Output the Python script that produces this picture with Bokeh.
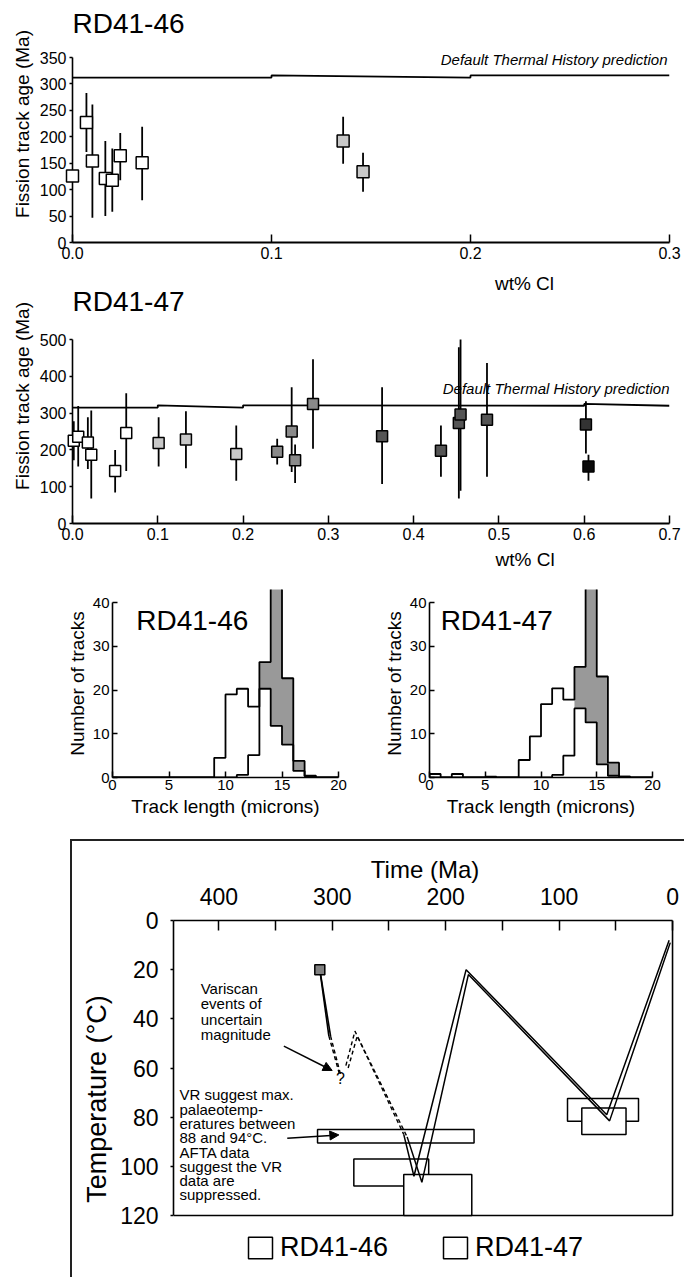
from bokeh.plotting import figure
from bokeh.models import (Range1d, FixedTicker, NumeralTickFormatter, Label, Arrow,
                          NormalHead, Legend, LegendItem, Div, Spacer, Title)
from bokeh.layouts import column, row
from bokeh.embed import file_html
from bokeh.resources import INLINE

FONT = "Liberation Sans"

# ---------------- data: fission track age vs wt% Cl ----------------
a46_cl = [0.000, 0.007, 0.010, 0.0165, 0.020, 0.024, 0.035, 0.136, 0.146]
a46_age = [126, 227, 154, 121, 118, 164, 151, 192, 134]
a46_lo = [122, 171, 47, 50, 58, 118, 80, 149, 96]
a46_hi = [130, 283, 261, 192, 178, 207, 219, 238, 170]
a46_grp = [0, 0, 0, 0, 0, 0, 0, 1, 1]
a46_dth_cl = [0.0, 0.1, 0.1, 0.2, 0.2, 0.3]
a46_dth_age = [312, 312, 316, 312, 316, 316]

a47_cl = [0.0015, 0.0067, 0.018, 0.022, 0.050, 0.063, 0.101, 0.133, 0.192, 0.240,
          0.257, 0.261, 0.282, 0.363, 0.432, 0.453, 0.455, 0.486, 0.602, 0.605]
a47_age = [225, 236, 220, 187, 143, 246, 219, 228, 189, 195,
           250, 172, 325, 237, 198, 273, 296, 282, 269, 155]
a47_lo = [172, 155, 148, 68, 84, 143, 155, 150, 116, 160,
          140, 110, 203, 107, 127, 68, 89, 127, 190, 116]
a47_hi = [278, 319, 289, 307, 200, 354, 289, 305, 266, 230,
          370, 215, 446, 370, 266, 479, 500, 436, 332, 187]
a47_grp = [0, 0, 0, 0, 0, 0, 1, 1, 1, 2, 2, 2, 2, 3, 3, 3, 3, 3, 4, 5]
a47_dth_cl = [0.0, 0.1, 0.1, 0.2, 0.2, 0.6, 0.6, 0.7]
a47_dth_age = [315, 315, 321, 315, 321, 320, 325, 320]

grp_colors = ["#ffffff", "#c8c8c8", "#8a8a8a", "#555555", "#333333", "#0a0a0a"]

# ---------------- data: track length histograms (1 micron bins, 0-20) ----------------
len_edges = list(range(21))
h46_all = [0, 0, 0, 0, 0, 0, 0, 0, 0, 4.5, 19, 20.3, 16.2, 26.4, 45, 22.7, 3.8, 0.4, 0, 0]
h46_sub = [0, 0, 0, 0, 0, 0, 0, 0, 0, 0, 0, 0.6, 5.1, 20.3, 11.8, 7.5, 1.5, 0.3, 0, 0]
h47_all = [0.8, 0, 0.8, 0, 0, 0.2, 0, 0, 4.0, 9.4, 16.8, 20.4, 17.8, 25.3, 45, 23.1, 3.4, 0.2, 0, 0]
h47_sub = [0, 0, 0, 0, 0, 0, 0, 0, 0, 0, 0, 0.6, 5.0, 15.8, 12.6, 3.0, 0.4, 0.2, 0, 0]
grey_from = 13

# ---------------- data: thermal history ----------------
th46_t = [311, 303, 294, 288, 280, 237, 228, 182, 58, 3]
th46_T = [20, 47, 62, 59, 45, 87, 104, 20, 79, 8]
th47_t = [311, 301.5, 292.5, 286, 278, 234, 221, 180, 55.5, 2]
th47_T = [20, 47, 63, 60, 47, 88, 106.5, 22, 81.5, 9]
vr_old, vr_young, vr_top, vr_bot = 313, 175, 85, 90.5
b46_old = [281, 92.6]
b46_young = [215, 30]
b46_top = [97, 72.4]
b46_bot = [108, 81.6]
b47_old = [237, 80]
b47_young = [177, 41]
b47_top = [103.3, 76.3]
b47_bot = [120, 87]
time_ticks = [0, 50, 100, 150, 200, 250, 300, 350, 400]
temp_ticks = [0, 20, 40, 60, 80, 100, 120]


def base_fig(**kw):
    p = figure(output_backend="svg", toolbar_location=None, **kw)
    p.grid.visible = False
    p.outline_line_color = None
    return p


def style_axis(ax, tick_size, label_size):
    ax.axis_line_color = "black"
    ax.axis_line_width = 1.6
    ax.major_tick_line_color = "black"
    ax.major_tick_line_width = 1.5
    ax.minor_tick_line_color = None
    ax.major_label_text_font = FONT
    ax.major_label_text_font_size = tick_size
    ax.major_label_text_color = "black"
    ax.axis_label_text_font = FONT
    ax.axis_label_text_font_size = label_size
    ax.axis_label_text_font_style = "normal"
    ax.axis_label_text_color = "black"


def lab(p, x, y, text, size, align="left", style="normal", baseline="middle", lh=1.2):
    p.add_layout(Label(x=x, y=y, text=text, text_font=FONT, text_font_size=size,
                       text_align=align, text_baseline=baseline, text_font_style=style,
                       text_color="black", text_line_height=lh))


def txt_title(text, size, **kw):
    return Title(text=text, text_font=FONT, text_font_size=size, text_font_style="normal",
                 text_color="black", **kw)


def age_panel(cl, age, lo, hi, grp, dth_cl, dth_age, xmax, ymax, xstep, ystep,
              height, top_ref, fl, fr, f0, fb, ft, labels, ylab_off, size):
    # fl, fr: frame x-edges; f0: pixel row of ymax; fb: pixel row of 0; ft: frame top row
    # labels: (page_x, page_y, text, size, align, style) placed inside the frame
    W = 684
    sy = ymax / (fb - f0)
    ytop = (fb - ft) * sy
    p = base_fig(width=W, height=height, x_range=Range1d(0, xmax), y_range=Range1d(0, ytop),
                 min_border_left=fl, min_border_right=W - fr, title=None,
                 min_border_top=ft - top_ref, min_border_bottom=top_ref + height - fb)
    sx = xmax / (fr - fl)
    X = lambda px: (px - fl) * sx
    Y = lambda py: (fb - py) * sy
    p.line(dth_cl, dth_age, line_color="black", line_width=1.8)
    p.segment(x0=cl, y0=lo, x1=cl, y1=hi, line_color="black", line_width=1.8)
    p.scatter(cl, age, marker="square", size=size, fill_color=[grp_colors[g] for g in grp],
              line_color="black", line_width=1.5, level="overlay")
    nt = int(round(xmax / xstep))
    p.xaxis.ticker = FixedTicker(ticks=[round(i * xstep, 6) for i in range(nt + 1)])
    p.xaxis.formatter = NumeralTickFormatter(format="0.0")
    p.xaxis.major_tick_in = 8
    p.xaxis.major_tick_out = 0
    p.xaxis.major_label_standoff = 4
    p.yaxis.ticker = FixedTicker(ticks=list(range(0, ymax + 1, ystep)))
    p.yaxis.bounds = (0, ymax)
    p.yaxis.major_tick_in = 0
    p.yaxis.major_tick_out = 3
    p.yaxis.major_label_standoff = 3
    style_axis(p.xaxis[0], "16px", "19px")
    style_axis(p.yaxis[0], "16px", "19px")
    p.xaxis.axis_line_width = 2.2
    p.add_layout(txt_title("Fission track age (Ma)", "19px", align="center",
                           offset=ylab_off, standoff=8), "left")
    for (px, py, text, fs, al, st) in labels:
        lab(p, X(px), Y(py), text, fs, align=al, style=st)
    return p


DTH = "Default Thermal History prediction"
p1 = age_panel(a46_cl, a46_age, a46_lo, a46_hi, a46_grp, a46_dth_cl, a46_dth_age,
               0.3, 350, 0.1, 50, 268, 0, 70, 669, 57, 242, 5,
               [(70, 23, "RD41-46", "28px", "left", "normal"),
                (667, 59, DTH, "15px", "right", "italic")], -13, 12)
# panel 2 frame also hosts the x-axis title of panel 1 ("wt% Cl")
p2 = age_panel(a47_cl, a47_age, a47_lo, a47_hi, a47_grp, a47_dth_cl, a47_dth_age,
               0.7, 500, 0.1, 100, 314, 268, 72, 669, 339, 523, 268,
               [(524, 283, "wt% Cl", "19px", "center", "normal"),
                (72, 301, "RD41-47", "28px", "left", "normal"),
                (669, 388, DTH, "15px", "right", "italic")], -25, 11)
p2.add_layout(txt_title("wt% Cl", "19px", align="left", offset=423, standoff=8), "below")


def steps(counts, first=0):
    xs, ys = [len_edges[first]], [0]
    for i in range(first, len(counts)):
        xs += [len_edges[i], len_edges[i + 1]]
        ys += [counts[i], counts[i]]
    xs.append(len_edges[-1])
    ys.append(0)
    return xs, ys


def hist_panel(all_c, sub_c, title, width, bl, br, title_x):
    p = base_fig(width=width, height=257, x_range=Range1d(0, 20), y_range=Range1d(0, 43),
                 min_border_left=bl, min_border_right=br, min_border_top=7, min_border_bottom=62)
    xs, ys = steps(all_c, grey_from)
    p.patch(xs, ys, fill_color="#999999", line_color=None)
    xs, ys = steps(sub_c)
    p.patch(xs, ys, fill_color="white", line_color=None)
    xs, ys = steps(all_c)
    p.line(xs, ys, line_color="black", line_width=1.8)
    xs, ys = steps(sub_c)
    p.line(xs, ys, line_color="black", line_width=1.8)
    p.xaxis.ticker = FixedTicker(ticks=[0, 5, 10, 15, 20])
    p.xaxis.major_tick_in = 6
    p.xaxis.major_tick_out = 0
    p.xaxis.major_label_standoff = 2
    p.xaxis.axis_label = "Track length (microns)"
    p.xaxis.axis_label_standoff = 3
    p.yaxis.ticker = FixedTicker(ticks=[0, 10, 20, 30, 40])
    p.yaxis.bounds = (0, 40)
    p.yaxis.major_tick_in = 5
    p.yaxis.major_tick_out = 0
    p.yaxis.major_label_standoff = 3
    p.yaxis.axis_label = "Number of tracks"
    p.yaxis.axis_label_standoff = 2
    style_axis(p.xaxis[0], "15px", "19px")
    style_axis(p.yaxis[0], "15px", "19px")
    lab(p, title_x, 35.9, title, "28px")
    return p


h1 = hist_panel(h46_all, h46_sub, "RD41-46", 380, 112, 42, 2.1)
h2 = hist_panel(h47_all, h47_sub, "RD41-47", 304, 47, 32, 1.0)

# ---------------- thermal history ----------------
p5 = base_fig(width=612, height=436, x_range=Range1d(440, -3.5), y_range=Range1d(145.2, 0),
              x_axis_location="above", min_border_left=101, min_border_right=8,
              min_border_top=79, min_border_bottom=0)
p5.line([440, 0, 0], [120, 120, 0], line_color="black", line_width=1.6)
p5.quad(left=[vr_old], right=[vr_young], top=[vr_top], bottom=[vr_bot],
        fill_color="white", line_color="black", line_width=1.5)
r46 = p5.quad(left=b46_old, right=b46_young, top=b46_top, bottom=b46_bot,
              fill_color="white", line_color="black", line_width=1.5)
r47 = p5.quad(left=b47_old, right=b47_young, top=b47_top, bottom=b47_bot,
              fill_color="white", line_color="black", line_width=1.5)
for tt, TT in ((th46_t, th46_T), (th47_t, th47_T)):
    p5.line(tt[0:2], TT[0:2], line_color="black", line_width=1.6)
    p5.line(tt[1:3], TT[1:3], line_color="black", line_width=1.4, line_dash="4 3")
    p5.line(tt[3:6], TT[3:6], line_color="black", line_width=1.4, line_dash="4 3")
    p5.line(tt[5:], TT[5:], line_color="black", line_width=1.5)
p5.scatter([th46_t[0]], [th46_T[0]], marker="square", size=10, fill_color="#808080",
           line_color="black", line_width=1.5)

p5.xaxis.ticker = FixedTicker(ticks=time_ticks)
p5.xaxis.major_label_overrides = {t: ("" if t % 100 else str(t)) for t in time_ticks}
p5.xaxis.bounds = (0, 440)
p5.xaxis.major_tick_in = 10
p5.xaxis.major_tick_out = 0
p5.xaxis.major_label_standoff = 16
p5.xaxis.axis_label = "Time (Ma)"
p5.xaxis.axis_label_standoff = 2
p5.yaxis.ticker = FixedTicker(ticks=temp_ticks)
p5.yaxis.bounds = (0, 120)
p5.yaxis.major_tick_in = 0
p5.yaxis.major_tick_out = 3
p5.yaxis.major_label_standoff = 12
p5.yaxis.axis_label = "Temperature (\u00b0C)"
p5.yaxis.axis_label_standoff = 5
style_axis(p5.xaxis[0], "23px", "24px")
style_axis(p5.yaxis[0], "23px", "27px")

lab(p5, 416, 24.2, "Variscan\nevents of\nuncertain\nmagnitude", "15px", baseline="top", lh=0.9)
lab(p5, 434.7, 67.5, "VR suggest max.\npalaeotemp-\neratures between\n88 and 94\u00b0C.\nAFTA data\nsuggest the VR\ndata are\nsuppressed.",
    "15px", baseline="top", lh=0.84)
lab(p5, 292.8, 64.3, "?", "16px", align="center")
p5.add_layout(Arrow(end=NormalHead(size=9, fill_color="black", line_color="black"),
                    x_start=342.7, y_start=51.1, x_end=300.1, y_end=61.0,
                    line_color="black", line_width=1.5))
p5.add_layout(Arrow(end=NormalHead(size=9, fill_color="black", line_color="black"),
                    x_start=339.7, y_start=88.6, x_end=294.2, y_end=87.2,
                    line_color="black", line_width=1.5))

legend = Legend(items=[LegendItem(label="RD41-46", renderers=[r46]),
                       LegendItem(label="RD41-47", renderers=[r47])],
                location=(72, 14), orientation="horizontal", glyph_width=30, glyph_height=27,
                label_text_font=FONT, label_text_font_size="27px", label_text_color="black",
                label_standoff=5, spacing=52, padding=0, margin=0, border_line_color=None,
                background_fill_alpha=0)
p5.add_layout(legend)

top_line = Div(text="", width=612, height=2, margin=0, styles={"background-color": "#222"})
left_line = Div(text="", width=2, height=438, margin=0, styles={"background-color": "#222"})
bottom = row(Spacer(width=70, height=438), left_line, column(top_line, p5))

layout = column(p1, p2, row(h1, h2), bottom)
open("out.html", "w").write(file_html(layout, INLINE))
